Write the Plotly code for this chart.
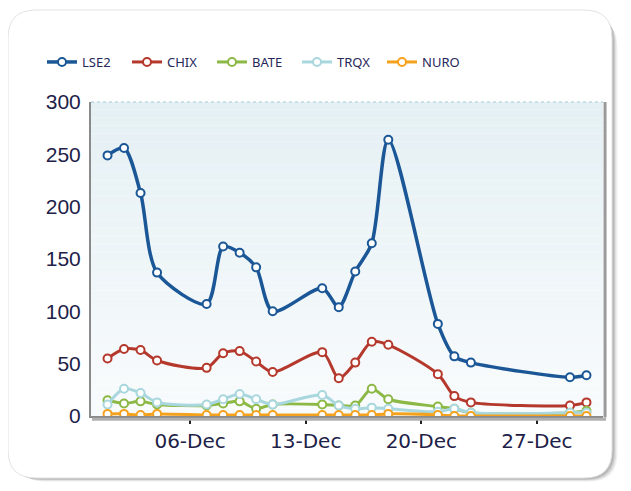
import plotly.graph_objects as go

# --- data ---
dates = [
    "2009-12-01", "2009-12-02", "2009-12-03", "2009-12-04",
    "2009-12-07", "2009-12-08", "2009-12-09", "2009-12-10", "2009-12-11",
    "2009-12-14", "2009-12-15", "2009-12-16", "2009-12-17", "2009-12-18",
    "2009-12-21", "2009-12-22", "2009-12-23", "2009-12-29", "2009-12-30",
]
lse2 = [249, 256, 213, 137, 107, 162, 156, 142, 100, 122, 104, 138, 165, 264, 88, 57, 51, 37, 39]
chix = [55, 64, 63, 53, 46, 60, 62, 52, 42, 61, 36, 51, 71, 68, 40, 19, 13, 10, 13]
bate = [15, 12, 14, 11, 10, 12, 14, 7, 11, 11, 10, 10, 26, 16, 9, 7, 3, 3, 5]
trqx = [11, 26, 22, 13, 11, 16, 21, 16, 11, 20, 10, 7, 8, 7, 4, 7, 3, 3, 3]
nuro = [2, 2, 1, 2, 1, 1, 1, 1, 1, 1, 1, 1, 1, 2, 1, 0, 0, 0, 0]

series_names = ["LSE2", "CHIX", "BATE", "TRQX", "NURO"]
series_values = [lse2, chix, bate, trqx, nuro]
series_colors = ["#1b5796", "#b5382c", "#8cb845", "#a9d7de", "#f4a21e"]
series_widths = [3.5, 3, 3, 3, 3]

tick_dates = ["2009-12-06", "2009-12-13", "2009-12-20", "2009-12-27"]

# page body has an 8px margin, so work in page pixels and shift
OFF = 8
W, H = 631 - OFF, 491 - OFF
L, R, T, B = 91 - OFF, 631 - 603, 102 - OFF, 491 - 416
pw, ph = W - L - R, H - T - B


def px_x(p):
    return (p - OFF - L) / pw


def px_y(p):
    return (H + OFF - B - p) / ph


def rounded(x0, y0, x1, y1, r):
    # rounded rect path in paper coords, input in page pixels
    rx, ry = r / pw, r / ph
    a, b, c, d = px_x(x0), px_y(y0), px_x(x1), px_y(y1)
    return (f"M{a+rx},{b} L{c-rx},{b} Q{c},{b} {c},{b-ry} L{c},{d+ry} Q{c},{d} {c-rx},{d} "
            f"L{a+rx},{d} Q{a},{d} {a},{d+ry} L{a},{b-ry} Q{a},{b} {a+rx},{b} Z")


fig = go.Figure()
for name, vals, col, w in zip(series_names, series_values, series_colors, series_widths):
    fig.add_trace(go.Scatter(
        x=dates, y=vals, name=name, mode="lines+markers",
        line=dict(color=col, width=w, shape="spline", smoothing=0.8),
        marker=dict(size=8, color="white", line=dict(color=col, width=2)),
    ))

shapes = []
# panel shadow + panel
for off, op in [(9, 0.10), (7, 0.15), (5, 0.2), (3, 0.25)]:
    shapes.append(dict(type="path", xref="paper", yref="paper", layer="below",
                       path=rounded(8 + off, 10 + off, 612 + off * 0.6, 478 + off * 0.4, 28),
                       fillcolor=f"rgba(120,120,120,{op})", line=dict(width=0)))
shapes.append(dict(type="path", xref="paper", yref="paper", layer="below",
                   path=rounded(8, 10, 612, 478, 28),
                   fillcolor="white", line=dict(color="#e2e2e2", width=1)))
# plot area gradient
n = 40
c0, c1 = (229, 240, 244), (248, 251, 252)
for i in range(n):
    t = i / (n - 1)
    col = tuple(round(c0[k] + (c1[k] - c0[k]) * t) for k in range(3))
    shapes.append(dict(type="rect", xref="paper", yref="paper", layer="below",
                       x0=0, x1=1, y0=1 - (i + 1) / n, y1=1 - i / n,
                       fillcolor=f"rgb{col}", line=dict(width=0)))
# plot area borders
shapes.append(dict(type="line", xref="paper", yref="paper", layer="below",
                   x0=0, x1=1, y0=1, y1=1, line=dict(color="#9fcbd3", width=1, dash="dot")))
shapes.append(dict(type="line", xref="paper", yref="paper", layer="above",
                   x0=1.004, x1=1.004, y0=-0.005, y1=1, line=dict(color="#9a9a9a", width=3)))
shapes.append(dict(type="line", xref="paper", yref="paper", layer="above",
                   x0=0.002, x1=1.006, y0=-0.01, y1=-0.01, line=dict(color="#b0b0b0", width=3)))

fig.update_layout(
    width=W, height=H,
    margin=dict(l=L, r=R, t=T, b=B),
    paper_bgcolor="white",
    plot_bgcolor="rgba(0,0,0,0)",
    shapes=shapes,
    showlegend=True,
    legend=dict(
        orientation="h", x=px_x(42), xanchor="left", y=px_y(62), yanchor="middle",
        entrywidth=40, entrywidthmode="pixels",
        font=dict(family="Noto Sans", size=13, color="#26285a"),
        bgcolor="rgba(0,0,0,0)", itemclick=False,
    ),
    xaxis=dict(
        type="date", range=["2009-11-30", "2009-12-31"],
        tickvals=tick_dates, tickformat="%d-%b",
        ticks="outside", ticklen=6, tickwidth=2, tickcolor="#222",
        showgrid=False, zeroline=False,
        showline=True, linecolor="#8a8a8a", linewidth=2,
        tickfont=dict(family="DejaVu Sans", size=20, color="#1e2148"),
    ),
    yaxis=dict(
        range=[0, 300], dtick=50,
        showgrid=False, zeroline=False,
        showline=True, linecolor="#8a8a8a", linewidth=2,
        ticks="", ticklabelstandoff=4,
        tickfont=dict(family="Liberation Sans", size=21, color="#1e2148"),
    ),
)

fig.write_html("out.html")
